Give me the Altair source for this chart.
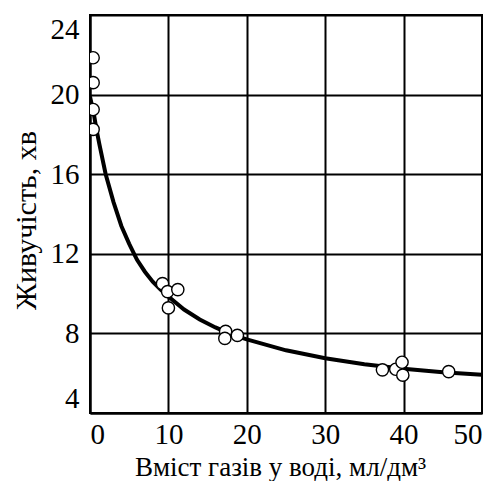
import altair as alt
import pandas as pd

# Observed points
pt_x = [0.4, 0.4, 0.4, 0.4, 9.25, 9.9, 11.2, 10.0, 17.3, 17.2, 18.8, 37.3, 39.0, 39.8, 39.9, 45.75]
pt_y = [21.85, 20.6, 19.25, 18.25, 10.5, 10.1, 10.2, 9.28, 8.1, 7.75, 7.9, 6.17, 6.2, 6.55, 5.9, 6.08]

# Fitted curve
cv_x = [0.0, 0.5, 0.8, 1.2, 2, 3, 4, 5, 6, 7, 8, 9, 10, 12, 14, 16, 18, 20, 25, 30, 35, 40, 45, 50]
cv_y = [19.9, 19.0, 18.3, 17.5, 16.0, 14.6, 13.4, 12.5, 11.7, 11.1, 10.6, 10.2, 9.85, 9.2, 8.7, 8.3,
        7.95, 7.7, 7.15, 6.75, 6.45, 6.22, 6.05, 5.92]

x_ticks = [0, 10, 20, 30, 40, 50]
y_ticks = [4, 8, 12, 16, 20, 24]

pts = pd.DataFrame({"x": pt_x, "y": pt_y})
cv = pd.DataFrame({"x": cv_x, "y": cv_y})

FONT = "Liberation Serif"

xs = alt.Scale(domain=[0, 50], nice=False, zero=False)
ys = alt.Scale(domain=[4, 24], nice=False, zero=False)

x_axis = alt.Axis(values=x_ticks, title="Вміст газів у воді, мл/дм³", grid=True, ticks=False,
                  labelFlush=True, labelPadding=7, titleY=62, titleX=190,
                  titleBaseline="alphabetic", titleFontSize=27)
y_axis = alt.Axis(values=y_ticks, title="Живучість, хв", grid=True, ticks=False,
                  labelFlush=True, labelPadding=11, titleX=-55, titleY=205,
                  titleBaseline="alphabetic", titleFontSize=30)

curve = alt.Chart(cv).mark_line(color="black", strokeWidth=4, clip=True).encode(
    x=alt.X("x:Q", scale=xs, axis=x_axis),
    y=alt.Y("y:Q", scale=ys, axis=y_axis),
)

points = alt.Chart(pts).mark_point(shape="circle", filled=True, fill="white", stroke="black",
                                   strokeWidth=1.4, size=150, opacity=1, clip=True).encode(
    x=alt.X("x:Q", scale=xs),
    y=alt.Y("y:Q", scale=ys),
)

chart = (curve + points).properties(
    width=392, height=398,
    autosize=alt.AutoSizeParams(type="none"),
    padding={"left": 82, "top": 7, "right": 1, "bottom": 68},
).configure_view(stroke="black", strokeWidth=2).configure_axis(
    domainColor="black", domainWidth=2, gridColor="black", gridWidth=2, gridOpacity=1,
    labelFont=FONT, labelFontSize=29, labelColor="black",
    titleFont=FONT, titleFontWeight="normal", titleColor="black",
)

chart.save("out.html", embed_options={"renderer": "svg", "actions": False})
